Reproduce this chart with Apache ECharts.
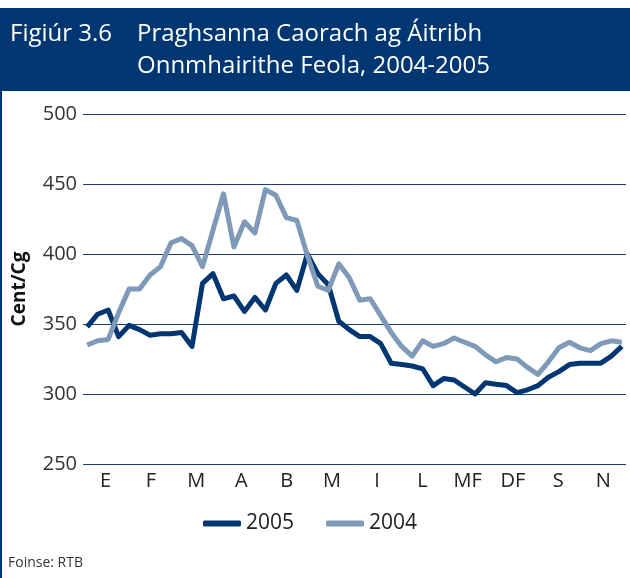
<!DOCTYPE html>
<html>
<head>
<meta charset="utf-8">
<script src="https://cdn.jsdelivr.net/npm/echarts@6/dist/echarts.min.js"></script>
<style>
  html, body { margin: 0; padding: 0; background: #fff; }
  #main { width: 630px; height: 578px; }
</style>
</head>
<body>
<div id="main"></div>
<script>
var months = ['E', 'F', 'M', 'A', 'B', 'M', 'I', 'L', 'MF', 'DF', 'S', 'N'];

// praghsanna seachtainiúla, cent/cg
var prices2005 = [
  348, 357, 360, 341, 349, 346, 342, 343, 343, 344,
  334, 379, 386, 368, 370, 359, 369, 360, 379, 385,
  374, 400, 386, 378, 352, 346, 341, 341, 336, 322,
  321, 320, 318, 306, 311, 310, 305, 300, 308, 307,
  306, 301, 303, 306, 312, 316, 321, 322, 322, 322,
  327, 334
];
var prices2004 = [
  335, 338, 339, 358, 375, 375, 385, 391, 408, 411,
  406, 391, 417, 443, 405, 423, 415, 446, 442, 426,
  424, 399, 377, 374, 393, 383, 367, 368, 356, 344,
  334, 327, 338, 334, 336, 340, 337, 334, 328, 323,
  326, 325, 319, 314, 323, 333, 337, 333, 331, 336,
  338, 337
];
var yTicks = [250, 300, 350, 400, 450, 500];

var navy = '#003671';
var grey = '#7f9ab8';
var font = '"Open Sans", "Noto Sans", sans-serif';

function toPoints(arr) {
  return arr.map(function (v, i) { return [i + 1, v]; });
}

var myChart = echarts.init(document.getElementById('main'));

var option = {
  backgroundColor: '#fff',
  animation: false,
  textStyle: { fontFamily: font },
  graphic: [
    { type: 'rect', left: 0, top: 8, shape: { width: 630, height: 83 }, style: { fill: navy } },
    { type: 'rect', left: 0, top: 91, shape: { width: 2, height: 487 }, style: { fill: navy } },
    { type: 'text', left: 10, top: 22, style: { text: 'Figiúr 3.6', fill: '#fff', font: '24px ' + font } },
    { type: 'text', left: 137, top: 22, style: { text: 'Praghsanna Caorach ag Áitribh', fill: '#fff', font: '24px ' + font } },
    { type: 'text', left: 137, top: 54, style: { text: 'Onnmhairithe Feola, 2004-2005', fill: '#fff', font: '24px ' + font } },
    { type: 'text', left: 8, top: 556, style: { text: 'Foinse: RTB', fill: '#333', font: '14px ' + font } }
  ],
  legend: {
    data: ['2005', '2004'],
    top: 508,
    left: 198,
    icon: 'roundRect',
    itemWidth: 38,
    itemHeight: 6,
    itemGap: 32,
    textStyle: { fontSize: 21, color: '#222', fontFamily: font }
  },
  grid: { left: 83, right: 4, top: 114, bottom: 114, containLabel: false },
  xAxis: [{
    type: 'category',
    data: months,
    boundaryGap: true,
    axisLine: { show: false },
    axisTick: { show: false },
    axisLabel: { fontSize: 20, color: '#222', margin: 7, fontFamily: font }
  }, {
    type: 'value',
    min: 0.6,
    max: 52.4,
    show: false
  }],
  yAxis: {
    type: 'value',
    min: yTicks[0],
    max: yTicks[yTicks.length - 1],
    interval: 50,
    name: 'Cent/Cg',
    nameLocation: 'middle',
    nameGap: 54,
    nameTextStyle: { fontSize: 19, fontWeight: 'bold', color: '#111', fontFamily: font },
    axisLine: { show: false },
    axisTick: { show: false },
    axisLabel: { fontSize: 20, color: '#333', margin: 6, fontFamily: font },
    splitLine: { lineStyle: { color: '#1c3d6e', width: 1 } }
  },
  series: [{
    name: '2005',
    type: 'line',
    xAxisIndex: 1,
    data: toPoints(prices2005),
    showSymbol: false,
    lineStyle: { color: navy, width: 5, join: 'round' },
    itemStyle: { color: navy }
  }, {
    name: '2004',
    type: 'line',
    xAxisIndex: 1,
    data: toPoints(prices2004),
    showSymbol: false,
    lineStyle: { color: grey, width: 5, join: 'round' },
    itemStyle: { color: grey }
  }]
};

option && myChart.setOption(option);
</script>
</body>
</html>
